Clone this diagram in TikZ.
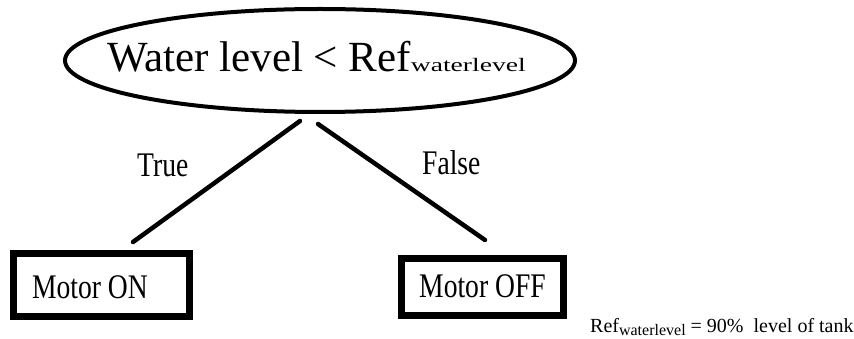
\documentclass[tikz,border=0pt]{standalone}
\usepackage{fontspec}
\setmainfont{Liberation Serif}
\newfontfamily\condserif[FakeStretch=0.8]{Liberation Serif}
\newfontfamily\wideserif[FakeStretch=1.45]{Liberation Serif}
\usetikzlibrary{shapes.geometric}
\tikzset{
  decision/.style={ellipse, draw, line width=4pt, inner sep=0pt},
  actbox/.style={rectangle, draw, line width=7pt, inner sep=0pt, text depth=0pt,
    font=\condserif\fontsize{34.5}{34.5}\selectfont},
  edgelbl/.style={inner sep=0pt, anchor=base west, font=\condserif\fontsize{34.5}{34.5}\selectfont},
  branch/.style={line width=4.5pt, line cap=round}
}
\begin{document}
\begin{tikzpicture}[x=1pt, y=-1pt]
\useasboundingbox (0,0) rectangle (854,339);
\node[decision, minimum width=510pt, minimum height=103pt] (cond) at (320,60.5) {};
\node[inner sep=0pt, anchor=base west, font=\fontsize{43}{43}\selectfont] (condtext) at (107,72)
  {Water level < Ref{\wideserif\fontsize{19}{19}\selectfont waterlevel}};
\node[actbox, minimum width=176pt, minimum height=62.5pt, text height=26pt] (on) at (101,285) {Motor ON\kern22pt\relax};
\node[actbox, minimum width=162pt, minimum height=57.5pt, text height=20pt] (off) at (482.5,287) {Motor OFF};
\coordinate (tl) at (300,121);
\coordinate (bl) at (133,242);
\coordinate (tr) at (318,124);
\coordinate (br) at (485,240);
\draw[branch] (tl) -- (bl);
\draw[branch] (tr) -- (br);
\node[edgelbl] (true) at (137,177) {True};
\node[edgelbl] (false) at (422,175) {False};
\node[inner sep=0pt, anchor=base west, font=\fontsize{20}{20}\selectfont] (note) at (590,332)
  {Ref\raisebox{-3pt}{\fontsize{16}{16}\selectfont waterlevel} = 90\%\ \ level of tank};
\end{tikzpicture}
\end{document}
